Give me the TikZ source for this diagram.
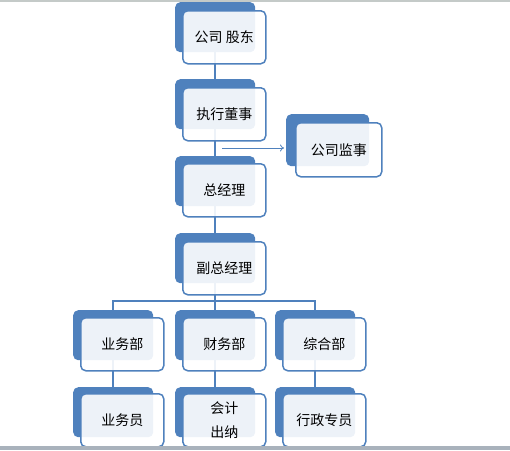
\documentclass[tikz,border=0pt]{standalone}
\usepackage{fontspec}
\setmainfont{Noto Sans CJK SC}
\usetikzlibrary{arrows.meta}
\definecolor{accent}{HTML}{4F81BD}
\definecolor{topline}{HTML}{C4CAC8}
\definecolor{bottombar}{HTML}{A9B2BC}
\pgfdeclarelayer{bg}
\pgfsetlayers{bg,main}
\begin{document}
\begin{tikzpicture}[x=1pt,y=-1pt,
  backbox/.style={fill=accent, draw=none, rounded corners=5pt, minimum width=80pt, minimum height=50pt, anchor=north west, inner sep=0pt},
  frontbox/.style={fill=white, fill opacity=0.9, text opacity=1, draw=accent, draw opacity=1, line width=1.5pt, rounded corners=5pt, minimum width=83pt, minimum height=53pt, anchor=north west, inner sep=0pt, font=\fontsize{14pt}{24pt}\selectfont, align=center},
  link/.style={draw=accent, line width=2pt},
  arrowlink/.style={draw=accent, line width=0.8pt, -{To[length=4pt,width=7pt]}},
]
\useasboundingbox (0,0) rectangle (510,450);
\draw[topline, line width=1.2pt] (0,1) -- (510,1);

% top column
\node[backbox] (gdB) at (175,2) {};
\node[frontbox] (gd) at (182,10) {公司 股东};
\node[backbox] (zxB) at (175,79) {};
\node[frontbox] (zx) at (182,87) {执行董事};
\node[backbox, minimum width=83pt, minimum height=52pt] (jsB) at (286,114) {};
\node[frontbox, minimum width=86pt, minimum height=54pt] (js) at (295,122) {公司监事};
\node[backbox] (zjB) at (175,156) {};
\node[frontbox] (zj) at (182,163) {总经理};
\node[backbox] (fzB) at (175,233) {};
\node[frontbox] (fz) at (182,241) {副总经理};

% departments
\node[backbox] (ywbB) at (73,310) {};
\node[frontbox] (ywb) at (80,317) {业务部};
\node[backbox] (cwbB) at (175,310) {};
\node[frontbox] (cwb) at (182,317) {财务部};
\node[backbox] (zhbB) at (275,310) {};
\node[frontbox] (zhb) at (282,317) {综合部};

% staff
\node[backbox] (ywyB) at (73,387) {};
\node[frontbox] (ywy) at (80,393) {业务员};
\node[backbox] (kjB) at (175,387) {};
\node[frontbox] (kj) at (182,393) {会计\\出纳};
\node[backbox] (xzB) at (275,387) {};
\node[frontbox] (xz) at (282,393) {行政专员};

\begin{pgfonlayer}{bg}
\draw[link] (gdB.south) -- (zxB.north);
\draw[link] (zxB.south) -- (zjB.north);
\draw[link] (zjB.south) -- (fzB.north);
\path (fzB.south) ++(0,18) coordinate (bar);
\draw[link] (fzB.south) -- (bar) -- (cwbB.north);
\draw[link] (ywbB.north) |- (bar);
\draw[link] (zhbB.north) |- (bar);
\draw[link] (ywbB.south) -- (ywyB.north);
\draw[link] (cwbB.south) -- (kjB.north);
\draw[link] (zhbB.south) -- (xzB.north);
\end{pgfonlayer}

\coordinate (arr) at (222,148);
\draw[arrowlink, shorten >=2pt] (arr) -- (arr -| jsB.west);

\fill[bottombar] (0,446) rectangle (510,450);
\end{tikzpicture}
\end{document}
